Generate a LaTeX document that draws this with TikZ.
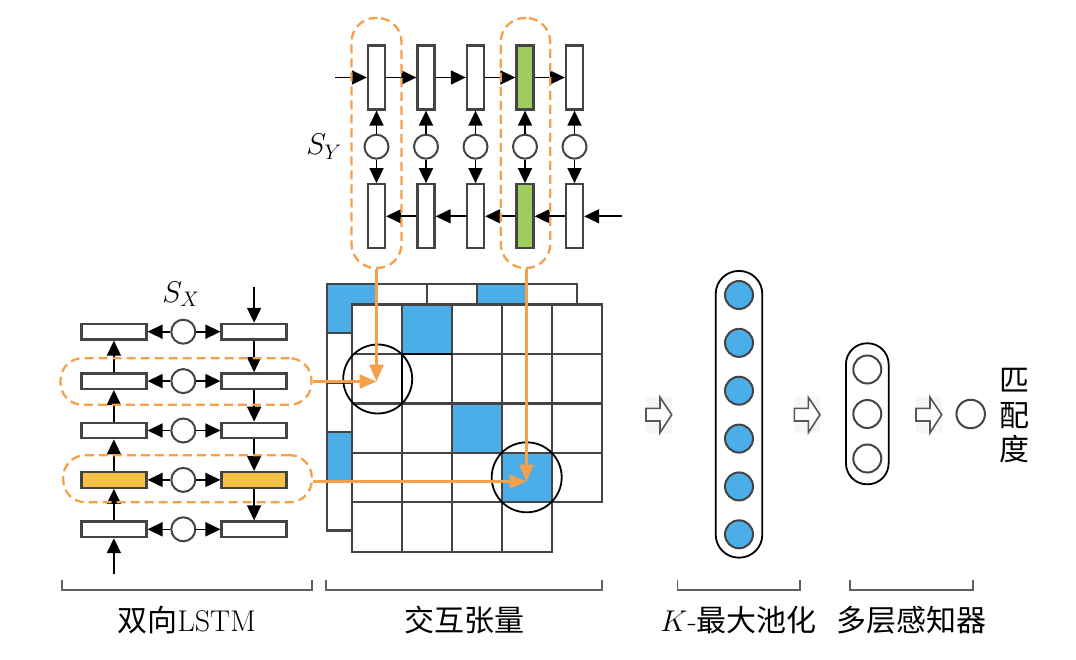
\documentclass[tikz,border=0pt]{standalone}
\usepackage{fix-cm}
\usepackage{fontspec}
\newfontfamily\cjk{Noto Sans CJK SC}
\usetikzlibrary{arrows.meta,calc}
\definecolor{dgray}{HTML}{444444}
\definecolor{orng}{HTML}{F5A04A}
\definecolor{yel}{HTML}{F4C244}
\definecolor{grn}{HTML}{9ECC5E}
\definecolor{blu}{HTML}{4BAEE8}
\tikzset{
  vbox/.style={draw=dgray, line width=2.3pt, fill=#1, minimum width=17pt, minimum height=64pt, inner sep=0pt},
  hbox/.style={draw=dgray, line width=2.3pt, fill=#1, minimum width=65pt, minimum height=15.5pt, inner sep=0pt},
  lc/.style={circle, draw=dgray, line width=2pt, fill=white, minimum size=24pt, inner sep=0pt},
  arr/.style={-{Triangle[length=15pt,width=14pt]}, line width=1.6pt, black},
  grp/.style={draw=orng, dashed, dash pattern=on 9pt off 5pt, line width=2.3pt, rounded corners=22pt, inner sep=0pt},
  oarr/.style={-{Triangle[length=17pt,width=14pt]}, line width=2.4pt, orng},
  gcell/.style={draw=dgray, line width=2.3pt},
  mcirc/.style={circle, draw=black, line width=1.8pt, inner sep=0pt},
  bcirc/.style={circle, draw=dgray, line width=2pt, fill=#1, minimum size=28pt, inner sep=0pt},
  layer/.style={draw=black, line width=1.8pt, inner sep=0pt},
  harrow/.style={draw=dgray!90, line width=1.6pt, fill=white},
  brk/.style={draw=dgray!85, line width=1.6pt},
  lab/.style={font=\fontsize{30}{36}\selectfont, inner sep=0pt},
}
\begin{document}
\begin{tikzpicture}[x=1pt,y=-1pt]
\useasboundingbox (0,0) rectangle (1076,660);

% ---------- top BiLSTM (S_Y) ----------
\foreach \i/\x/\f in {1/376.5/white,2/426/white,3/475.5/white,4/525/grn,5/574.5/white} {
  \node[vbox=\f] (ya\i) at (\x,77.5) {};
  \node[vbox=\f] (yb\i) at (\x,216.3) {};
  \node[lc] (yc\i) at (\x,146.7) {};
  \draw[arr] (yc\i) -- (ya\i);
  \draw[arr] (yc\i) -- (yb\i);
}
\coordinate (yin) at (335,77.5);
\coordinate (yinb) at (621.7,216.3);
\draw[arr] (yin) -- (ya1);
\foreach \i/\j in {1/2,2/3,3/4,4/5} \draw[arr] (ya\i) -- (ya\j);
\draw[arr] (yinb) -- (yb5);
\foreach \i/\j in {5/4,4/3,3/2,2/1} \draw[arr] (yb\i) -- (yb\j);
\node[grp, minimum width=50pt, minimum height=250pt, rounded corners=24pt] (gy1) at (376.5,143) {};
\node[grp, minimum width=49.5pt, minimum height=250pt, rounded corners=24pt] (gy2) at (525.5,143) {};
\node[lab] (sy) at (324,147) {$S_Y$};

% ---------- left BiLSTM (S_X) ----------
\foreach \i/\y/\f in {1/331.7/white,2/381.1/white,3/430.5/white,4/479.9/yel,5/529.3/white} {
  \node[hbox=\f] (xl\i) at (113.9,\y) {};
  \node[hbox=\f] (xr\i) at (254.1,\y) {};
  \node[lc] (xc\i) at (183.3,\y) {};
  \draw[arr] (xc\i) -- (xl\i);
  \draw[arr] (xc\i) -- (xr\i);
}
\coordinate (xin) at (113.9,574);
\coordinate (xinr) at (254.1,287);
\draw[arr] (xin) -- (xl5);
\foreach \i/\j in {5/4,4/3,3/2,2/1} \draw[arr] (xl\i) -- (xl\j);
\draw[arr] (xinr) -- (xr1);
\foreach \i/\j in {1/2,2/3,3/4,4/5} \draw[arr] (xr\i) -- (xr\j);
\node[grp, minimum width=251pt, minimum height=46.5pt] (gx2) at (186,381.5) {};
\node[grp, minimum width=248.5pt, minimum height=47pt] (gx4) at (187.5,478.7) {};
\node[lab] (sx) at (181,294) {$S_X$};

% ---------- interaction tensor ----------
% back slice
\foreach \r in {0,...,3} \foreach \c in {0,...,4}
  \draw[gcell, fill=white] ({327.3+50*\c},{284+49.3*\r}) rectangle ++(50,49.3);
\foreach \c in {0,...,3}
  \draw[gcell, fill=white] ({327.3+50*\c},{284+49.3*4}) rectangle ++(50,49.3);
\foreach \r/\c in {0/0,0/3,3/0}
  \draw[gcell, fill=blu] ({327.3+50*\c},{284+49.3*\r}) rectangle ++(50,49.3);
% front slice
\foreach \r in {0,...,3} \foreach \c in {0,...,4}
  \draw[gcell, fill=white] ({352+50*\c},{304.5+49.45*\r}) rectangle ++(50,49.45);
\foreach \c in {0,...,3}
  \draw[gcell, fill=white] ({352+50*\c},{304.5+49.45*4}) rectangle ++(50,49.45);
\foreach \r/\c in {0/1,2/2,3/3}
  \draw[gcell, fill=blu] ({352+50*\c},{304.5+49.45*\r}) rectangle ++(50,49.45);
\draw[black, line width=2.3pt] (402,403.4) -- (402,353.95) -- (452,353.95);

\node[mcirc, minimum size=69pt] (mc1) at (377.7,379) {};
\node[mcirc, minimum size=70pt] (mc2) at (526.7,477.3) {};

\coordinate (t1) at (376.5,381.5);
\coordinate (t2) at (526.5,481.5);
\draw[oarr] (gx2.east) -- (t1);
\draw[oarr] (t1 |- gy1.south) -- (t1);
\draw[oarr] (gx4.east |- t2) -- (t2);
\draw[oarr] (t2 |- gy2.south) -- (t2);

% ---------- hollow arrows ----------
\foreach \x in {646,794.3,916} {
  \fill[gray!7] (\x,397) rectangle ++(25.7,36);
  \draw[harrow] (\x,408.3) -- ++(14,0) -- ++(0,-11) -- ++(11.7,17.4) -- ++(-11.7,18) -- ++(0,-11.7) -- ++(-14,0) -- cycle;
}

% ---------- K-max pooling ----------
\node[layer, minimum width=46.6pt, minimum height=286.7pt, rounded corners=23pt] (pool) at (739,414.3) {};
\foreach \i in {1,...,6}
  \node[bcirc=blu] (b\i) at (739,{295+47.86*(\i-1)}) {};

% ---------- MLP ----------
\node[layer, minimum width=42.7pt, minimum height=141pt, rounded corners=21pt] (mlp) at (867.3,413.8) {};
\foreach \i/\y in {1/369.5,2/414,3/458.5}
  \node[bcirc=white] (m\i) at (867.3,\y) {};

\node[bcirc=white, minimum size=28.5pt] (out) at (970.7,414) {};
\node[lab, align=center, font=\fontsize{30}{34.5}\selectfont\cjk] (score) at (1014,416) {匹\\配\\度};

% ---------- brackets ----------
\foreach \a/\b in {61.7/311.7,326/601.7,677.3/800,850/972.7}
  \draw[brk] (\a,580) -- (\a,590) -- (\b,590) -- (\b,580);
\node[lab] (l1) at (186.7,620) {{\cjk 双向}LSTM};
\node[lab] (l2) at (464,620) {\cjk 交互张量};
\node[lab] (l3) at (738.5,620) {$K$-{\cjk 最大池化}};
\node[lab] (l4) at (911.5,620) {\cjk 多层感知器};
\end{tikzpicture}
\end{document}
